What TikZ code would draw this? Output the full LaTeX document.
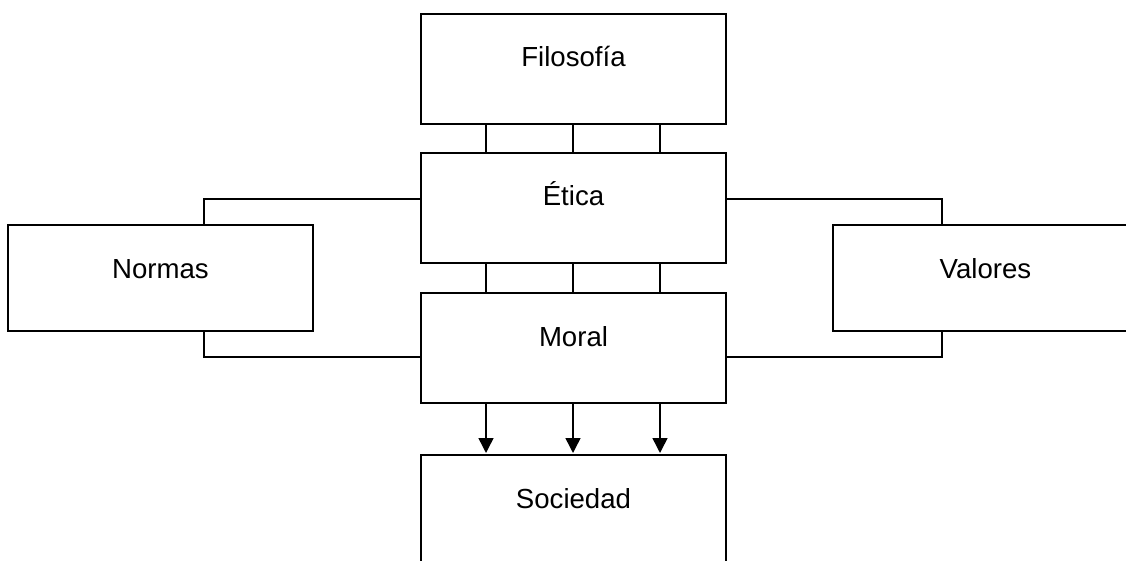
\documentclass[tikz,border=0pt]{standalone}
\usepackage{fontspec}
\setmainfont{Liberation Sans}
\usetikzlibrary{arrows.meta}
\begin{document}
\begin{tikzpicture}[x=1pt,y=-1pt, line width=1.5pt,
  box/.style={draw, rectangle, minimum width=305pt, minimum height=110pt, inner sep=0pt, outer sep=0pt, anchor=north west},
  lbl/.style={anchor=base, font=\fontsize{27.6}{30}\selectfont, inner sep=0pt},
  arr/.style={-{Triangle[length=15pt,width=15pt]}, shorten >=2pt}]
\clip (0,0) rectangle (1126,561);
\node[box] (fil) at (421,14) {};
\node[lbl] (filt) at (573.5,67) {Filosofía};
\node[box] (eti) at (421,153) {};
\node[lbl] (etit) at (573.5,206) {Ética};
\node[box] (mor) at (421,293) {};
\node[lbl] (mort) at (573.5,346) {Moral};
\node[box] (soc) at (421,455) {};
\node[lbl] (soct) at (573.5,508) {Sociedad};
\node[box, minimum height=106pt] (nor) at (8,225) {};
\node[lbl] (nort) at (160.5,278) {Normas};
\node[box, minimum height=106pt] (val) at (833,225) {};
\node[lbl] (valt) at (985.5,278) {Valores};
\foreach \x in {486,573,660} {
  \draw (\x,0 |- fil.south) -- (\x,0 |- eti.north);
  \draw (\x,0 |- eti.south) -- (\x,0 |- mor.north);
  \draw[arr] (\x,0 |- mor.south) -- (\x,0 |- soc.north);
}
\draw (eti.west |- 0,199) -| (204,0 |- nor.north);
\draw (204,0 |- nor.south) |- (mor.west |- 0,357);
\draw (eti.east |- 0,199) -| (942,0 |- val.north);
\draw (942,0 |- val.south) |- (mor.east |- 0,357);
\end{tikzpicture}
\end{document}
